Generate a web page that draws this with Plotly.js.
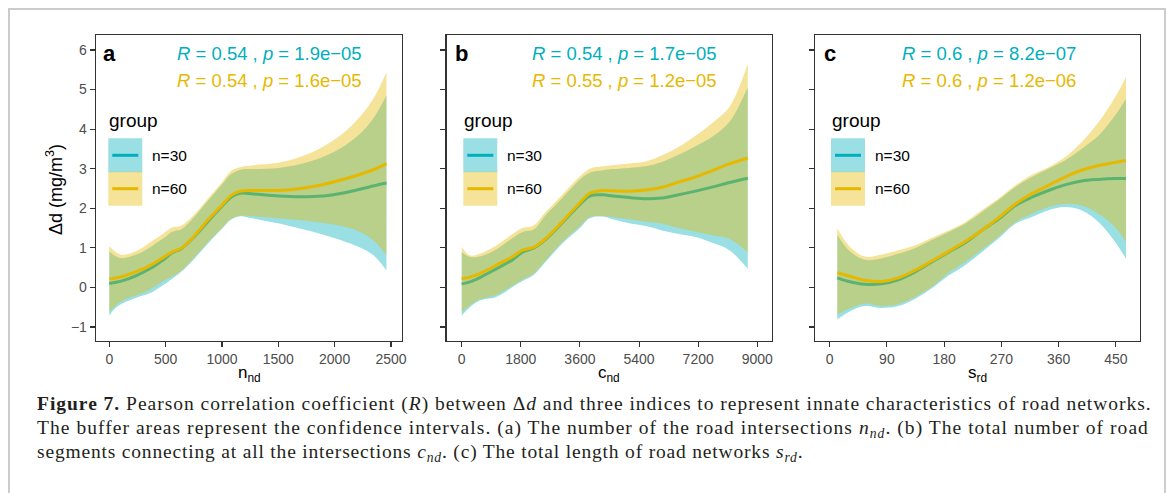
<!DOCTYPE html>
<html>
<head>
<meta charset="utf-8">
<script src="https://cdn.plot.ly/plotly-3.0.1.min.js"></script>
<style>
  html, body { margin: 0; padding: 0; background: #fff; }
  #chart { width: 1168px; height: 493px; }
</style>
</head>
<body>
<div id="chart"></div>
<script>
// ---- data ----
// panel a: n_nd
const xA = [0, 60, 120, 240, 360, 480, 560, 640, 760, 880, 1000, 1080, 1160, 1280, 1500, 1700, 1900, 2100, 2250, 2350, 2460];
const fit30A = [0.10, 0.13, 0.17, 0.30, 0.47, 0.70, 0.88, 0.98, 1.30, 1.68, 2.05, 2.28, 2.38, 2.36, 2.31, 2.29, 2.31, 2.40, 2.50, 2.57, 2.64];
const up30A = [0.91, 0.78, 0.74, 0.83, 1.01, 1.24, 1.41, 1.47, 1.80, 2.20, 2.60, 2.86, 2.97, 2.99, 3.02, 3.12, 3.30, 3.60, 3.95, 4.30, 4.85];
const lo30A = [-0.71, -0.51, -0.40, -0.26, -0.15, 0.06, 0.22, 0.40, 0.74, 1.12, 1.48, 1.71, 1.80, 1.74, 1.62, 1.48, 1.33, 1.15, 0.98, 0.80, 0.43];
const fit60A = [0.21, 0.24, 0.28, 0.40, 0.55, 0.76, 0.90, 0.99, 1.32, 1.72, 2.08, 2.32, 2.43, 2.45, 2.45, 2.50, 2.60, 2.75, 2.88, 2.98, 3.13];
const up60A = [1.04, 0.89, 0.82, 0.92, 1.13, 1.36, 1.52, 1.56, 1.86, 2.26, 2.66, 2.94, 3.04, 3.09, 3.15, 3.30, 3.56, 3.95, 4.40, 4.80, 5.44];
const lo60A = [-0.62, -0.45, -0.33, -0.20, -0.05, 0.16, 0.28, 0.42, 0.78, 1.16, 1.50, 1.73, 1.81, 1.80, 1.75, 1.70, 1.63, 1.53, 1.37, 1.17, 0.82];

// panel b: c_nd
const xB = [0, 250, 550, 1050, 1550, 1850, 2200, 2550, 3050, 3600, 3900, 4300, 4600, 5100, 5600, 6100, 6600, 7150, 7650, 8150, 8710];
const fit30B = [0.09, 0.14, 0.25, 0.47, 0.70, 0.89, 1.00, 1.21, 1.62, 2.10, 2.31, 2.34, 2.31, 2.27, 2.24, 2.26, 2.34, 2.44, 2.54, 2.65, 2.76];
const up30B = [0.89, 0.77, 0.78, 0.96, 1.25, 1.40, 1.47, 1.82, 2.25, 2.73, 2.90, 2.96, 2.99, 3.02, 3.06, 3.17, 3.35, 3.58, 3.82, 4.18, 5.06];
const lo30B = [-0.71, -0.50, -0.33, -0.24, 0.01, 0.16, 0.32, 0.64, 1.10, 1.50, 1.75, 1.79, 1.72, 1.62, 1.55, 1.44, 1.35, 1.27, 1.12, 0.94, 0.47];
const fit60B = [0.22, 0.26, 0.35, 0.56, 0.78, 0.94, 1.02, 1.23, 1.65, 2.14, 2.38, 2.45, 2.44, 2.43, 2.46, 2.53, 2.66, 2.80, 2.96, 3.12, 3.27];
const up60B = [1.02, 0.81, 0.85, 1.06, 1.35, 1.50, 1.57, 1.90, 2.33, 2.81, 3.00, 3.06, 3.09, 3.13, 3.18, 3.34, 3.55, 3.85, 4.17, 4.56, 5.65];
const lo60B = [-0.62, -0.45, -0.30, -0.19, 0.05, 0.20, 0.36, 0.68, 1.14, 1.55, 1.78, 1.80, 1.78, 1.72, 1.66, 1.61, 1.50, 1.40, 1.32, 1.23, 0.89];

// panel c: s_rd
const xC = [12, 30, 55, 82, 108, 134, 160, 187, 213, 239, 265, 292, 318, 344, 370, 396, 423, 449, 466];
const fit30C = [0.24, 0.15, 0.08, 0.09, 0.19, 0.39, 0.64, 0.89, 1.13, 1.44, 1.72, 2.07, 2.28, 2.45, 2.59, 2.69, 2.73, 2.75, 2.75];
const up30C = [1.33, 0.94, 0.70, 0.74, 0.85, 0.99, 1.19, 1.40, 1.61, 1.90, 2.20, 2.54, 2.79, 3.00, 3.21, 3.50, 3.84, 4.35, 4.77];
const lo30C = [-0.81, -0.62, -0.47, -0.52, -0.47, -0.29, -0.03, 0.30, 0.56, 0.89, 1.23, 1.61, 1.78, 1.95, 2.03, 1.95, 1.65, 1.15, 0.72];
const fit60C = [0.37, 0.29, 0.18, 0.15, 0.24, 0.43, 0.66, 0.91, 1.16, 1.44, 1.75, 2.11, 2.37, 2.58, 2.79, 2.96, 3.08, 3.16, 3.21];
const up60C = [1.50, 1.06, 0.78, 0.83, 0.94, 1.06, 1.25, 1.44, 1.65, 1.95, 2.24, 2.58, 2.85, 3.04, 3.29, 3.67, 4.18, 4.81, 5.32];
const lo60C = [-0.69, -0.54, -0.41, -0.47, -0.42, -0.24, 0.01, 0.37, 0.65, 0.95, 1.28, 1.65, 1.86, 2.03, 2.11, 2.07, 1.86, 1.52, 1.15];

const ticksA = [0, 500, 1000, 1500, 2000, 2500];
const ticksB = [0, 1800, 3600, 5400, 7200, 9000];
const ticksC = [0, 90, 180, 270, 360, 450];
const ticksY = [-1, 0, 1, 2, 3, 4, 5, 6];

const groups = ['n=30', 'n=60'];
const panelLetters = ['a', 'b', 'c'];
const xTitles = ['n<sub>nd</sub>', 'c<sub>nd</sub>', 's<sub>rd</sub>'];
const statLabels30 = ['<i>R</i> = 0.54 , <i>p</i> = 1.9e\u221205', '<i>R</i> = 0.54 , <i>p</i> = 1.7e\u221205', '<i>R</i> = 0.6 , <i>p</i> = 8.2e\u221207'];
const statLabels60 = ['<i>R</i> = 0.54 , <i>p</i> = 1.6e\u221205', '<i>R</i> = 0.55 , <i>p</i> = 1.2e\u221205', '<i>R</i> = 0.6 , <i>p</i> = 1.2e\u221206'];

const captionLines = [
    '<b>Figure 7.</b> Pearson correlation coefficient (<i>R</i>) between \u0394<i>d</i> and three indices to represent innate characteristics of road networks.',
    'The buffer areas represent the confidence intervals. (a) The number of the road intersections <i>n<sub>nd</sub></i>. (b) The total number of road',
    'segments connecting at all the intersections <i>c<sub>nd</sub></i>. (c) The total length of road networks <i>s<sub>rd</sub></i>.'
];

// ---- styling ----
const W = 1168, H = 493;
const px = v => v / W;
const py = v => 1 - v / H;

const col30 = '#00AFBB', col60 = '#E7B800';
const band30 = 'rgba(0,175,187,0.4)', band60 = 'rgba(231,184,0,0.4)';
const sans = 'Liberation Sans, Arial, sans-serif';
const serif = 'Liberation Serif, Times New Roman, serif';

// plot boxes in pixels: left, right; shared top/bottom
const panels = [
    { left: 96, right: 402, range: [-118, 2598], ticks: ticksA, letterX: 103, statX: 176, legX: 108.3 },
    { left: 446.7, right: 772, range: [-457, 9448], ticks: ticksB, letterX: 455, statX: 531, legX: 463.3 },
    { left: 815.3, right: 1140, range: [-22.6, 488], ticks: ticksC, letterX: 824, statX: 901, legX: 831 }
];
const plotTop = 35, plotBottom = 341;
const yRange = [-1.354, 6.379];

const series = [
    { x: xA, f30: fit30A, u30: up30A, l30: lo30A, f60: fit60A, u60: up60A, l60: lo60A },
    { x: xB, f30: fit30B, u30: up30B, l30: lo30B, f60: fit60B, u60: up60B, l60: lo60B },
    { x: xC, f30: fit30C, u30: up30C, l30: lo30C, f60: fit60C, u60: up60C, l60: lo60C }
];

function smoothTraces(x, lo, up, fit, color, fill, name, xa, ya) {
    const base = { x: x, mode: 'lines', xaxis: xa, yaxis: ya, showlegend: false, hoverinfo: 'skip' };
    return [
        { ...base, y: lo, line: { color: 'rgba(0,0,0,0)', width: 0, shape: 'spline' } },
        { ...base, y: up, fill: 'tonexty', fillcolor: fill, line: { color: 'rgba(0,0,0,0)', width: 0, shape: 'spline' } },
        { ...base, y: fit, name: name, line: { color: color, width: 3, shape: 'spline' } }
    ];
}

const traces = [];
series.forEach((s, i) => {
    const xa = i === 0 ? 'x' : 'x' + (i + 1);
    const ya = i === 0 ? 'y' : 'y' + (i + 1);
    traces.push(...smoothTraces(s.x, s.l30, s.u30, s.f30, col30, band30, groups[0], xa, ya));
    traces.push(...smoothTraces(s.x, s.l60, s.u60, s.f60, col60, band60, groups[1], xa, ya));
});

const layout = {
    width: W,
    height: H,
    margin: { l: 0, r: 0, t: 0, b: 0 },
    paper_bgcolor: '#ffffff',
    plot_bgcolor: '#ffffff',
    font: { family: sans, color: '#000' },
    showlegend: false,
    annotations: [],
    shapes: []
};

panels.forEach((p, i) => {
    const sfx = i === 0 ? '' : String(i + 1);
    layout['xaxis' + sfx] = {
        domain: [px(p.left), px(p.right)],
        range: p.range,
        anchor: 'y' + sfx,
        tickmode: 'array',
        tickvals: p.ticks,
        ticks: 'outside', ticklen: 5, tickwidth: 1.1, tickcolor: '#333',
        showline: true, mirror: true, linecolor: '#333', linewidth: 1.3,
        showgrid: false, zeroline: false,
        tickfont: { family: sans, size: 14, color: '#4d4d4d' }
    };
    layout['yaxis' + sfx] = {
        domain: [py(plotBottom), py(plotTop)],
        range: yRange,
        anchor: 'x' + sfx,
        tickmode: 'array',
        tickvals: ticksY,
        showticklabels: i === 0,
        ticks: 'outside', ticklen: 5, tickwidth: 1.1, tickcolor: '#333',
        showline: true, mirror: true, linecolor: '#333', linewidth: 1.3,
        showgrid: false, zeroline: false,
        tickfont: { family: sans, size: 14, color: '#4d4d4d' }
    };

    const mid = (p.left + p.right) / 2;
    // x axis title
    layout.annotations.push({
        xref: 'paper', yref: 'paper', x: px(mid), y: py(374),
        xanchor: 'center', yanchor: 'middle', showarrow: false,
        text: xTitles[i], font: { family: sans, size: 17, color: '#000' }
    });
    // panel letter
    layout.annotations.push({
        xref: 'paper', yref: 'paper', x: px(p.letterX - 2), y: py(53),
        xanchor: 'left', yanchor: 'middle', showarrow: false,
        text: '<b>' + panelLetters[i] + '</b>', font: { family: sans, size: 22, color: '#000' }
    });
    // correlation labels
    layout.annotations.push({
        xref: 'paper', yref: 'paper', x: px(p.statX - 1), y: py(54),
        xanchor: 'left', yanchor: 'middle', showarrow: false,
        text: statLabels30[i], font: { family: sans, size: 18.5, color: col30 }
    });
    layout.annotations.push({
        xref: 'paper', yref: 'paper', x: px(p.statX - 1), y: py(80),
        xanchor: 'left', yanchor: 'middle', showarrow: false,
        text: statLabels60[i], font: { family: sans, size: 18.5, color: col60 }
    });
    // legend drawn inside each panel
    layout.annotations.push({
        xref: 'paper', yref: 'paper', x: px(p.legX - 1), y: py(121),
        xanchor: 'left', yanchor: 'middle', showarrow: false,
        text: 'group', font: { family: sans, size: 19, color: '#000' }
    });
    [[col30, band30, 138.3], [col60, band60, 171.7]].forEach(([c, f, top], k) => {
        layout.shapes.push({
            type: 'rect', xref: 'paper', yref: 'paper', layer: 'below',
            x0: px(p.legX), x1: px(p.legX + 34), y0: py(top + 34), y1: py(top),
            fillcolor: f, line: { width: 0 }
        });
        layout.shapes.push({
            type: 'line', xref: 'paper', yref: 'paper',
            x0: px(p.legX + 4), x1: px(p.legX + 30), y0: py(top + 17), y1: py(top + 17),
            line: { color: c, width: 3 }
        });
        layout.annotations.push({
            xref: 'paper', yref: 'paper', x: px(p.legX + 42), y: py(top + 17),
            xanchor: 'left', yanchor: 'middle', showarrow: false,
            text: groups[k], font: { family: sans, size: 15.5, color: '#000' }
        });
    });
});

// y axis title
layout.annotations.push({
    xref: 'paper', yref: 'paper', x: px(54), y: py(190),
    xanchor: 'center', yanchor: 'middle', showarrow: false, textangle: -90,
    text: '\u0394d (mg/m<sup>3</sup>)', font: { family: sans, size: 18, color: '#000' }
});

// caption (the journal face is wider than Times, so open up the tracking)
const captionSpacing = ['0.98px', '1.05px', '0.82px'];
[404, 429, 453].forEach((yc, k) => {
    layout.annotations.push({
        xref: 'paper', yref: 'paper', x: px(35), y: py(yc),
        xanchor: 'left', yanchor: 'middle', showarrow: false, align: 'left',
        text: '<span style="letter-spacing:' + captionSpacing[k] + '">' + captionLines[k] + '</span>',
        font: { family: serif, size: 19.5, color: '#231f20' }
    });
});

// light frame around the figure
layout.shapes.push({
    type: 'rect', xref: 'paper', yref: 'paper',
    x0: px(9), x1: px(1165), y0: -0.1, y1: py(9),
    line: { color: '#cccccc', width: 2 }, fillcolor: 'rgba(0,0,0,0)'
});

Plotly.newPlot('chart', traces, layout, { displayModeBar: false, staticPlot: true });
</script>
</body>
</html>
